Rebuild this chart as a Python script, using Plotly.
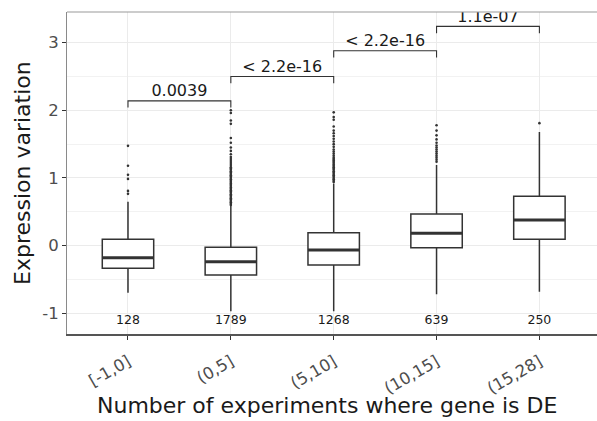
import plotly.graph_objects as go

# ---- data ----
categories = ["[-1,0]", "(0,5]", "(5,10]", "(10,15]", "(15,28]"]
counts = [128, 1789, 1268, 639, 250]
q1 = [-0.334, -0.433, -0.286, -0.03, 0.095]
median = [-0.178, -0.237, -0.064, 0.183, 0.38]
q3 = [0.095, -0.024, 0.192, 0.469, 0.731]
lower_whisker = [-0.695, -0.97, -0.97, -0.72, -0.68]
upper_whisker = [0.65, 0.59, 0.92, 1.19, 1.68]
outliers = [
    [0.765, 0.809, 0.986, 1.046, 1.18, 1.475],
    [0.60, 0.62, 0.64, 0.66, 0.68, 0.70, 0.72, 0.74, 0.76, 0.78, 0.80, 0.82, 0.84,
     0.86, 0.88, 0.90, 0.92, 0.94, 0.96, 0.98, 1.00, 1.02, 1.04, 1.06, 1.08, 1.10,
     1.12, 1.14, 1.16, 1.19, 1.22, 1.25, 1.28, 1.31, 1.35, 1.40, 1.45, 1.52, 1.59,
     1.80, 1.85, 1.96, 2.0],
    [0.94, 0.96, 0.98, 1.00, 1.02, 1.04, 1.06, 1.08, 1.10, 1.12, 1.14, 1.16, 1.18,
     1.20, 1.22, 1.24, 1.26, 1.28, 1.30, 1.33, 1.36, 1.39, 1.42, 1.46, 1.50, 1.54,
     1.58, 1.62, 1.66, 1.70, 1.76, 1.86, 1.90, 1.97],
    [1.24, 1.27, 1.30, 1.33, 1.36, 1.39, 1.42, 1.45, 1.48, 1.52, 1.57, 1.63, 1.70, 1.78],
    [1.81],
]
comparisons = [(1, 2), (2, 3), (3, 4), (4, 5)]
p_labels = ["0.0039", "< 2.2e-16", "< 2.2e-16", "1.1e-07"]
bracket_y = [2.14, 2.50, 2.88, 3.24]
y_ticks = [-1, 0, 1, 2, 3]

FONT = "DejaVu Sans"
DARK = "#333333"
BOX_W = 0.5
TIP = 0.1
COUNT_Y = -1.11

fig = go.Figure()
positions = list(range(1, len(categories) + 1))

for i, pos in enumerate(positions):
    fig.add_trace(go.Box(
        x=[pos], q1=[q1[i]], median=[median[i]], q3=[q3[i]],
        lowerfence=[lower_whisker[i]], upperfence=[upper_whisker[i]],
        width=BOX_W, whiskerwidth=0, fillcolor="white",
        line=dict(color=DARK, width=1.5), boxpoints=False,
        showlegend=False, hoverinfo="skip",
    ))
    # thicker median line
    fig.add_trace(go.Scatter(
        x=[pos - BOX_W / 2, pos + BOX_W / 2], y=[median[i], median[i]],
        mode="lines", line=dict(color=DARK, width=3),
        showlegend=False, hoverinfo="skip",
    ))
    fig.add_trace(go.Scatter(
        x=[pos] * len(outliers[i]), y=outliers[i], mode="markers",
        marker=dict(color=DARK, size=2.6, line=dict(width=0)),
        showlegend=False, hoverinfo="skip",
    ))

# count labels
fig.add_trace(go.Scatter(
    x=positions, y=[COUNT_Y] * len(positions), mode="text",
    text=[str(c) for c in counts], textposition="middle center",
    textfont=dict(family=FONT, size=12.5, color="#1a1a1a"),
    showlegend=False, hoverinfo="skip",
))

# significance brackets
for (a, b), yb, lab in zip(comparisons, bracket_y, p_labels):
    fig.add_trace(go.Scatter(
        x=[a, a, b, b], y=[yb - TIP, yb, yb, yb - TIP], mode="lines",
        line=dict(color=DARK, width=1.1), showlegend=False, hoverinfo="skip",
        cliponaxis=True,
    ))
    fig.add_trace(go.Scatter(
        x=[(a + b) / 2], y=[yb + 0.13], mode="text", text=[lab],
        textposition="middle center",
        textfont=dict(family=FONT, size=16, color="#1a1a1a"),
        showlegend=False, hoverinfo="skip", cliponaxis=True,
    ))

fig.update_layout(
    width=597, height=421,
    margin=dict(l=67, r=0, t=12, b=87, autoexpand=False),
    plot_bgcolor="white", paper_bgcolor="white",
    font=dict(family=FONT, color="#4d4d4d"),
    showlegend=False,
)
fig.update_xaxes(
    range=[0.407, 5.56], tickmode="array", tickvals=positions, ticktext=categories,
    tickangle=-30, tickfont=dict(family=FONT, size=16.5, color="#4d4d4d"),
    ticks="outside", ticklen=4, tickcolor=DARK, ticklabelstandoff=6,
    showgrid=True, gridcolor="#ebebeb", gridwidth=1, zeroline=False,
    showline=True, linecolor="#555555", linewidth=1.6, automargin=False,
)
fig.update_yaxes(
    range=[-1.306, 3.453], tickmode="array", tickvals=y_ticks,
    ticktext=[str(t) for t in y_ticks],
    tickfont=dict(family=FONT, size=16.5, color="#4d4d4d"),
    ticks="outside", ticklen=4, tickcolor=DARK,
    showgrid=True, gridcolor="#ebebeb", gridwidth=1, zeroline=False,
    minor=dict(tickvals=[-0.5, 0.5, 1.5, 2.5], showgrid=True,
               gridcolor="#f2f2f2", gridwidth=0.8, ticks=""),
    showline=True, linecolor="#8a8a8a", linewidth=1, automargin=False,
)
# top panel border
fig.add_shape(type="line", xref="paper", yref="paper", x0=0, x1=1, y0=1, y1=1,
              line=dict(color="#999999", width=1))

fig.add_annotation(text="Expression variation", xref="paper", yref="paper",
                   x=-0.085, y=0.5, xanchor="center", yanchor="middle",
                   textangle=-90, showarrow=False,
                   font=dict(family=FONT, size=22, color="#1a1a1a"))
fig.add_annotation(text="Number of experiments where gene is DE", xref="paper",
                   yref="paper", x=0.49, y=-0.2236, xanchor="center",
                   yanchor="middle", showarrow=False,
                   font=dict(family=FONT, size=22, color="#1a1a1a"))

fig.write_html("out.html")
